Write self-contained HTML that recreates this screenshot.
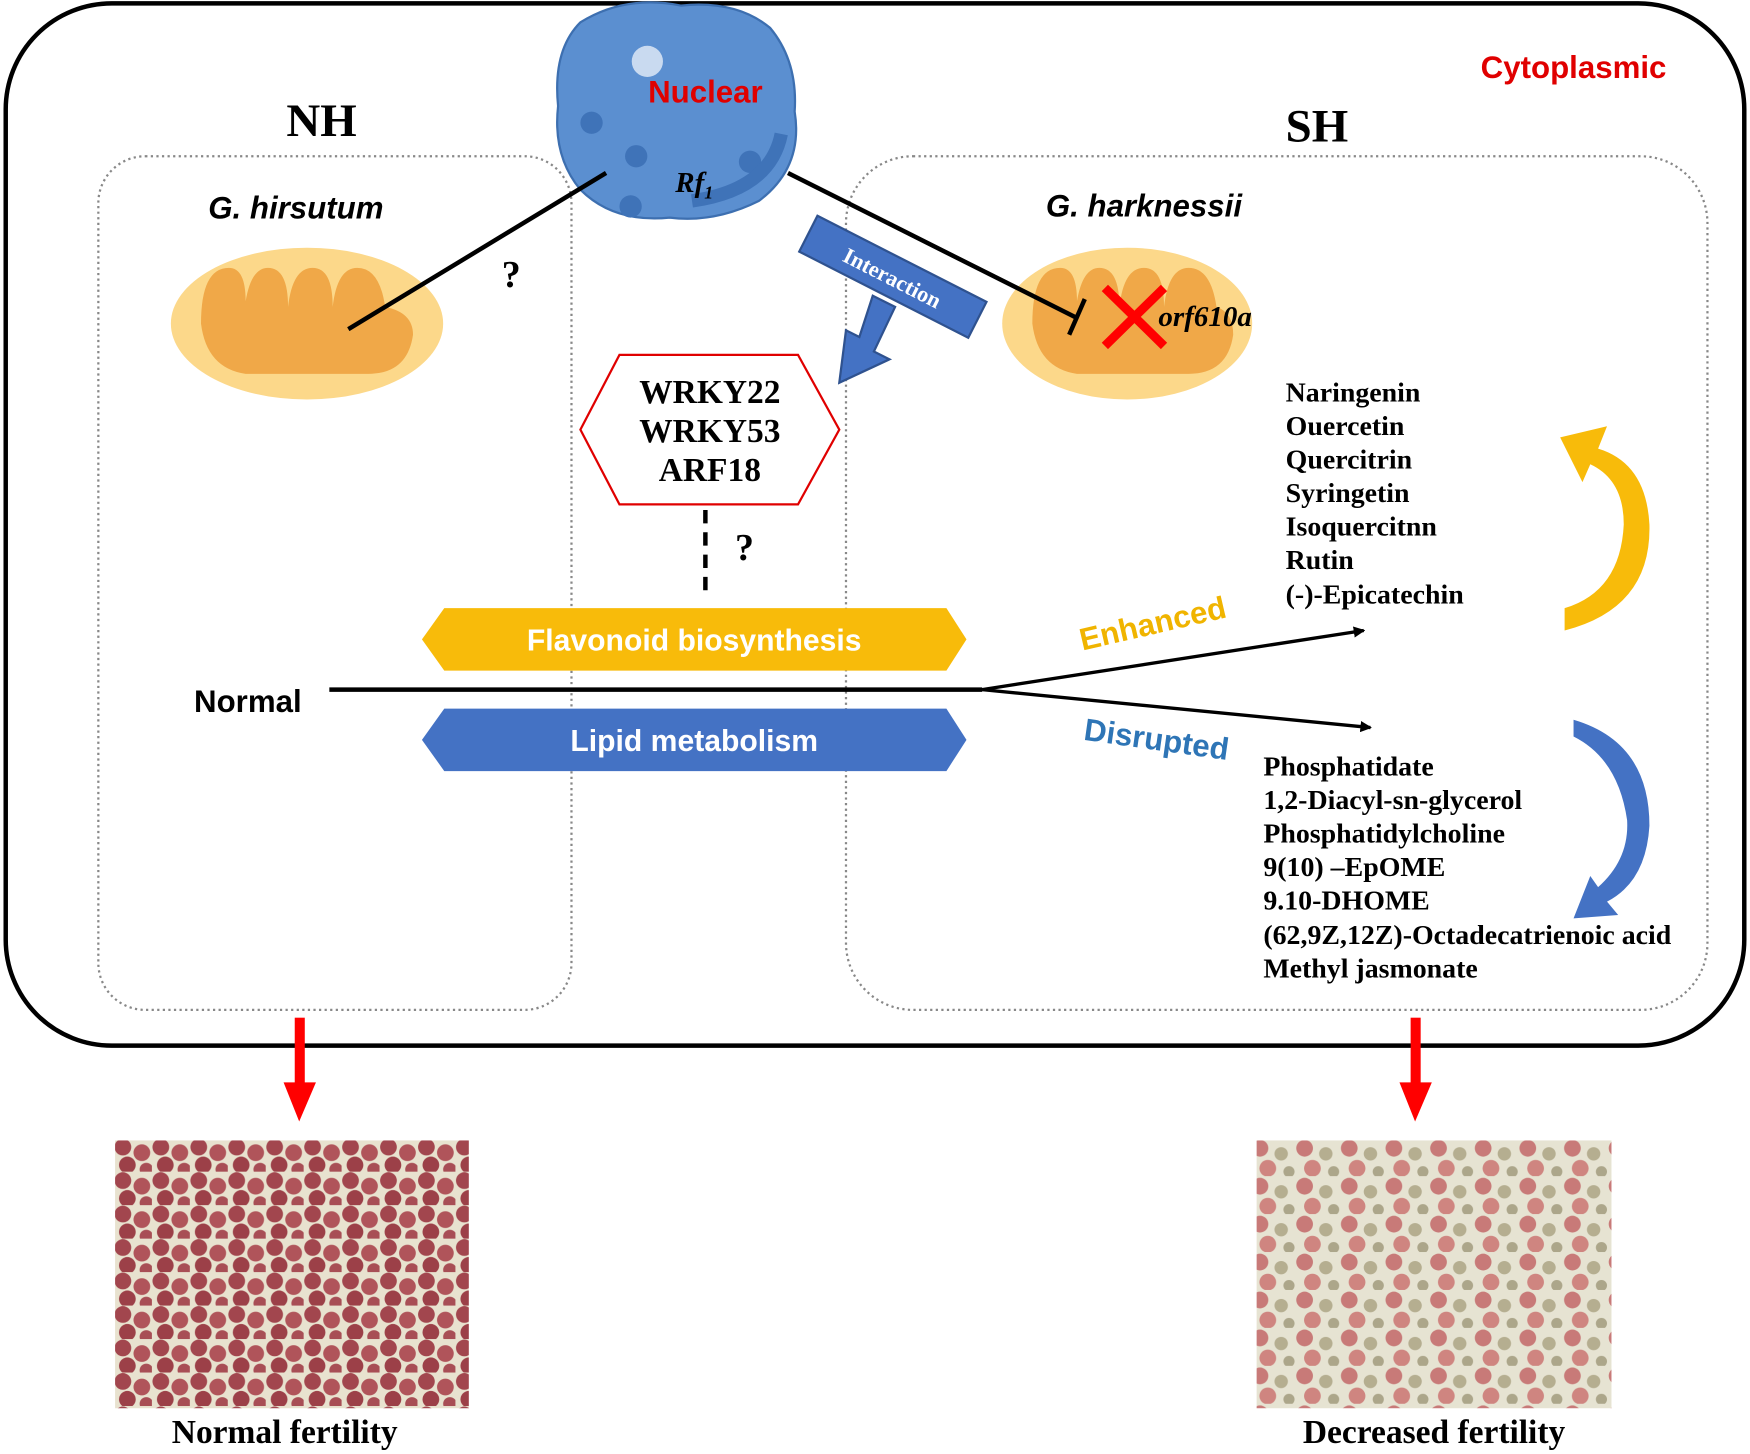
<!DOCTYPE html>
<html><head><meta charset="utf-8">
<style>
html,body{margin:0;padding:0;background:#fff;}
svg{display:block;}
.serif{font-family:"Liberation Serif",serif;font-weight:bold;}
.sans{font-family:"Liberation Sans",sans-serif;font-weight:bold;}
</style></head>
<body>
<svg width="1750" height="1454" viewBox="0 0 1568 1303" xmlns="http://www.w3.org/2000/svg">
<defs>
<pattern id="pol1" width="34" height="30" patternUnits="userSpaceOnUse">
<rect width="34" height="30" fill="#e8e2cf"/>
<circle cx="8" cy="8" r="7.5" fill="#a2464e"/>
<circle cx="25" cy="13" r="7.5" fill="#b0545a"/>
<circle cx="12" cy="24" r="7.5" fill="#9c4048"/>
<circle cx="29" cy="28" r="6" fill="#a84e55"/>
</pattern>
<pattern id="pol2" width="40" height="34" patternUnits="userSpaceOnUse">
<rect width="40" height="34" fill="#e6e3d2"/>
<circle cx="9" cy="9" r="7.5" fill="#c87a78"/>
<circle cx="28" cy="14" r="6" fill="#b5ae90"/>
<circle cx="16" cy="27" r="7.5" fill="#cf8580"/>
<circle cx="35" cy="30" r="5" fill="#aca68a"/>
</pattern>
<marker id="ah" markerWidth="10" markerHeight="10" refX="9" refY="5" orient="auto" markerUnits="userSpaceOnUse"><path d="M0,0 L14,5 L0,10 z" fill="#000" transform="scale(0.75,1)"/></marker>
</defs>

<rect x="5" y="3" width="1558" height="934" rx="95" fill="#fff" stroke="#000" stroke-width="4"/>
<rect x="88" y="140" width="424" height="765" rx="42" fill="none" stroke="#888" stroke-width="2" stroke-dasharray="2,3"/>
<rect x="758" y="140" width="772" height="765" rx="60" fill="none" stroke="#888" stroke-width="2" stroke-dasharray="2,3"/>

<text x="288" y="122" class="serif" font-size="42" text-anchor="middle">NH</text>
<text x="1180" y="127" class="serif" font-size="42" text-anchor="middle">SH</text>
<text x="1410" y="70" class="sans" font-size="28" fill="#e00000" text-anchor="middle">Cytoplasmic</text>

<path d="M520,20 Q560,-5 610,5 Q660,0 690,25 Q715,55 712,100 Q720,150 680,180 Q640,200 600,195 Q550,200 520,170 Q495,140 500,95 Q495,45 520,20 Z" fill="#5b8fd0" stroke="#3d6fb0" stroke-width="2"/>
<ellipse cx="580" cy="55" rx="14" ry="14" fill="#c9daf0"/>
<circle cx="530" cy="110" r="10" fill="#3f73b8"/>
<circle cx="570" cy="140" r="10" fill="#3f73b8"/>
<circle cx="565" cy="185" r="10" fill="#3f73b8"/>
<circle cx="672" cy="145" r="10" fill="#3f73b8"/>
<path d="M620,180 Q690,170 700,120" fill="none" stroke="#3f73b8" stroke-width="12"/>
<text x="632" y="92" class="sans" font-size="28" fill="#e00000" text-anchor="middle">Nuclear</text>
<text x="605" y="172" class="serif" font-size="26" font-style="italic">Rf<tspan font-size="16" dy="6">1</tspan></text>

<text x="265" y="196" class="sans" font-size="28" font-style="italic" text-anchor="middle">G. hirsutum</text>
<text x="1025" y="194" class="sans" font-size="28" font-style="italic" text-anchor="middle">G. harknessii</text>

<ellipse cx="275" cy="290" rx="122" ry="68" fill="#fcd88a"/>
<path d="M180,290 Q180,240 205,240 Q220,240 220,270 Q225,240 240,240 Q258,240 258,275 Q262,240 280,240 Q298,240 298,275 Q302,240 320,240 Q340,240 345,275 Q370,280 370,300 Q365,335 330,335 L220,335 Q185,330 180,290 Z" fill="#f0a848"/>
<ellipse cx="1010" cy="290" rx="112" ry="68" fill="#fcd88a"/>
<path d="M925,290 Q925,240 950,240 Q965,240 965,270 Q970,240 985,240 Q1003,240 1003,275 Q1007,240 1025,240 Q1043,240 1043,275 Q1047,240 1065,240 Q1085,240 1090,275 Q1105,280 1105,300 Q1100,335 1065,335 L965,335 Q930,330 925,290 Z" fill="#f0a848"/>

<line x1="543" y1="155" x2="312" y2="295" stroke="#000" stroke-width="4"/>
<text x="458" y="257" class="serif" font-size="34" text-anchor="middle">?</text>
<line x1="706" y1="155" x2="965" y2="285" stroke="#000" stroke-width="4"/>
<line x1="972" y1="268" x2="958" y2="300" stroke="#000" stroke-width="4"/>
<line x1="990" y1="258" x2="1043" y2="310" stroke="#f00" stroke-width="8"/>
<line x1="1043" y1="258" x2="990" y2="310" stroke="#f00" stroke-width="8"/>
<text x="1038" y="292" class="serif" font-size="26" font-style="italic">orf610a</text>

<g transform="translate(800,248) rotate(27)">
<rect x="-85" y="-18" width="170" height="36" fill="#4472c4" stroke="#2f528f" stroke-width="2"/>
<text x="0" y="8" class="serif" font-size="20" fill="#fff" font-weight="normal" text-anchor="middle">Interaction</text>
</g>
<polygon points="782,265 802,275 783,315 797,322 752,343 758,296 770,302" fill="#4472c4" stroke="#2f528f" stroke-width="2"/>

<polygon points="520,385 555,318 715,318 752,385 715,452 555,452" fill="#fff" stroke="#e00000" stroke-width="2"/>
<text x="636" y="361" class="serif" font-size="30" text-anchor="middle">WRKY22</text>
<text x="636" y="396" class="serif" font-size="30" text-anchor="middle">WRKY53</text>
<text x="636" y="431" class="serif" font-size="30" text-anchor="middle">ARF18</text>
<line x1="632" y1="457" x2="632" y2="532" stroke="#000" stroke-width="4" stroke-dasharray="12,8"/>
<text x="667" y="502" class="serif" font-size="34" text-anchor="middle">?</text>

<polygon points="378,573 398,545 848,545 866,573 848,601 398,601" fill="#f8bb0a"/>
<text x="622" y="583" class="sans" font-size="27" fill="#fff" text-anchor="middle">Flavonoid biosynthesis</text>
<polygon points="378,663 398,635 848,635 866,663 848,691 398,691" fill="#4472c4"/>
<text x="622" y="673" class="sans" font-size="27" fill="#fff" text-anchor="middle">Lipid metabolism</text>

<text x="222" y="638" class="sans" font-size="28" text-anchor="middle">Normal</text>
<polyline points="295,618 880,618" fill="none" stroke="#000" stroke-width="4"/>
<line x1="880" y1="618" x2="1222" y2="565" stroke="#000" stroke-width="3" marker-end="url(#ah)"/>
<line x1="880" y1="618" x2="1228" y2="652" stroke="#000" stroke-width="3" marker-end="url(#ah)"/>
<text transform="translate(1035,568) rotate(-13)" class="sans" font-size="28" fill="#f0b400" text-anchor="middle">Enhanced</text>
<text transform="translate(1035,672) rotate(8)" class="sans" font-size="28" fill="#2e75b6" text-anchor="middle">Disrupted</text>

<g class="serif" font-size="25">
<text x="1152" y="360">Naringenin</text>
<text x="1152" y="390">Ouercetin</text>
<text x="1152" y="420">Quercitrin</text>
<text x="1152" y="450">Syringetin</text>
<text x="1152" y="480">Isoquercitnn</text>
<text x="1152" y="510">Rutin</text>
<text x="1152" y="541">(-)-Epicatechin</text>
<text x="1132" y="695">Phosphatidate</text>
<text x="1132" y="725">1,2-Diacyl-sn-glycerol</text>
<text x="1132" y="755">Phosphatidylcholine</text>
<text x="1132" y="785">9(10) –EpOME</text>
<text x="1132" y="815">9.10-DHOME</text>
<text x="1132" y="846">(62,9Z,12Z)-Octadecatrienoic acid</text>
<text x="1132" y="876">Methyl jasmonate</text>
</g>

<path d="M1402,565 Q1480,545 1478,470 Q1475,415 1432,402 L1440,382 L1398,392 L1418,432 L1425,416 Q1455,430 1455,470 Q1452,530 1402,545 Z" fill="#f8bb0a"/>
<path d="M1410,645 Q1478,665 1478,740 Q1475,790 1440,808 L1450,820 L1410,823 L1425,785 L1432,795 Q1460,770 1458,735 Q1450,680 1410,660 Z" fill="#4472c4"/>

<rect x="264" y="912" width="9" height="60" fill="#f00"/>
<polygon points="254,970 283,970 268,1005" fill="#f00"/>
<rect x="1264" y="912" width="9" height="60" fill="#f00"/>
<polygon points="1254,970 1283,970 1268,1005" fill="#f00"/>

<rect x="103" y="1022" width="317" height="240" fill="url(#pol1)"/>
<rect x="1126" y="1022" width="318" height="240" fill="url(#pol2)"/>
<text x="255" y="1293" class="serif" font-size="30" text-anchor="middle">Normal fertility</text>
<text x="1285" y="1293" class="serif" font-size="30" text-anchor="middle">Decreased fertility</text>
</svg>
</body></html>
